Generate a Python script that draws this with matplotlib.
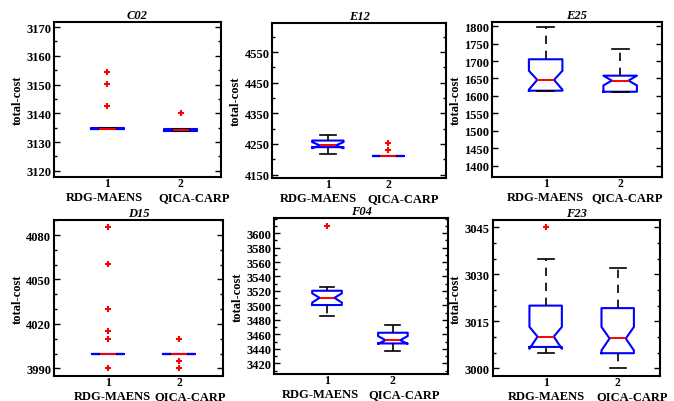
"""
Boxplots of total-cost for RDG-MAENS vs QICA-CARP on six instances.
"""

import matplotlib
matplotlib.use('Agg')
import matplotlib.pyplot as plt
from matplotlib.ticker import MultipleLocator

# ---- data ----
instances = ['C02', 'E12', 'E25', 'D15', 'F04', 'F23']
algorithms = ['RDG-MAENS', 'QICA-CARP']

# per instance: [RDG-MAENS, QICA-CARP]
medians = [[3134.7, 3134.2], [4245, 4209], [1646, 1644],
           [4000, 4000], [3510.5, 3452], [3010.1, 3009.5]]
q1s = [[3134.5, 3134.0], [4239.5, 4209], [1615, 1612],
       [4000, 4000], [3500.6, 3447.5], [3006.8, 3004.8]]
q3s = [[3135.0, 3134.4], [4261, 4209], [1705, 1658],
       [4000, 4000], [3520.3, 3462.3], [3020, 3019.2]]
whislos = [[3134.5, 3134.0], [4218, 4209], [1615, 1612],
           [4000, 4000], [3485.2, 3436.7], [3005, 3000]]
whishis = [[3135.0, 3134.4], [4280, 4209], [1797, 1733],
           [4000, 4000], [3525.4, 3472.4], [3035, 3032]]
ci_los = [[3134.7, 3134.2], [4236, 4209], [1618, 1630],
          [4000, 4000], [3504, 3447], [3006.2, 3005.7]]
ci_his = [[3134.7, 3134.2], [4256, 4209], [1672, 1658],
          [4000, 4000], [3516.7, 3457.7], [3013.2, 3013.2]]
outliers = [
    [[3154.3, 3150.2, 3142.5], [3140]],
    [[], [4253, 4231]],
    [[], []],
    [[4085.4, 4060.2, 4030.3, 4015.2, 4010, 3990], [4010, 3995.2, 3990]],
    [[3610], []],
    [[3045], []],
]

# y axis ticks
major_ticks = [list(range(3120, 3171, 10)), [4150, 4250, 4350, 4450, 4550],
               list(range(1400, 1801, 50)), [3990, 4020, 4050, 4080],
               list(range(3420, 3601, 20)), [3000, 3015, 3030, 3045]]
minor_steps = [5, 50, None, 10, 10, 5]
ylims = [(3117.8, 3171.8), (4139, 4646), (1367.5, 1812),
         (3984.8, 4090.1), (3405.2, 3620.7), (2997.5, 3047.3)]
xlims = [(0.27, 2.55), (0.08, 2.96), (0.28, 2.56),
         (0.24, 2.62), (0.20, 2.84), (0.265, 2.585)]
box_widths = [0.45, 0.52, 0.45, 0.45, 0.45, 0.45]
# where the algorithm names sit under each panel (axes fraction)
name_x = [(0.304, 0.841), (0.266, 0.751), (0.316, 0.793),
          (0.343, 0.808), (0.267, 0.748), (0.321, 0.832)]

# axes positions in figure fractions [left, bottom, width, height]
positions = [
    [0.080, 0.557, 0.248, 0.386],
    [0.404, 0.555, 0.258, 0.386],
    [0.730, 0.557, 0.252, 0.386],
    [0.080, 0.062, 0.251, 0.388],
    [0.407, 0.067, 0.258, 0.388],
    [0.731, 0.062, 0.248, 0.388],
]

plt.rcParams['font.family'] = ['Liberation Serif', 'DejaVu Serif']
plt.rcParams['font.weight'] = 'bold'

fig = plt.figure(figsize=(6.74, 4.02), dpi=100)

for i, name in enumerate(instances):
    ax = fig.add_axes(positions[i])
    stats = []
    for j in range(len(algorithms)):
        stats.append(dict(med=medians[i][j], q1=q1s[i][j], q3=q3s[i][j],
                          whislo=whislos[i][j], whishi=whishis[i][j],
                          cilo=ci_los[i][j], cihi=ci_his[i][j],
                          fliers=outliers[i][j], label=str(j + 1)))

    ax.bxp(stats, positions=[1, 2], widths=box_widths[i], shownotches=True,
           boxprops=dict(color='#0000ff', linewidth=1.5),
           medianprops=dict(color='#ff0000', linewidth=1.4),
           whiskerprops=dict(color='black', linewidth=1.2, linestyle=(0, (5, 4))),
           capprops=dict(color='black', linewidth=1.2),
           flierprops=dict(marker='+', markeredgecolor='#ff0000',
                           markersize=5, markeredgewidth=1.5, linestyle='none'))

    ax.set_xlim(*xlims[i])
    ax.set_ylim(*ylims[i])
    ax.set_yticks(major_ticks[i])
    if minor_steps[i]:
        ax.yaxis.set_minor_locator(MultipleLocator(minor_steps[i]))

    ax.tick_params(axis='y', which='both', direction='in', left=True, right=True,
                   labelsize=9, width=1.0, pad=2)
    ax.tick_params(axis='y', which='major', length=4)
    ax.tick_params(axis='y', which='minor', length=2)
    ax.tick_params(axis='x', length=0, labelsize=8.5, pad=0)
    for lbl in ax.get_xticklabels() + ax.get_yticklabels():
        lbl.set_fontweight('bold')

    # algorithm names below the tick numbers
    for j, alg in enumerate(algorithms):
        ax.text(name_x[i][j], -0.128, alg, transform=ax.transAxes,
                ha='center', va='center', fontsize=9, fontweight='bold')

    for spine in ax.spines.values():
        spine.set_linewidth(1.5)

    ax.set_ylabel('total-cost', fontsize=9, fontweight='bold', labelpad=2)
    ax.set_title(name, fontsize=9, fontweight='bold', style='italic', pad=3)

plt.savefig('out.png', dpi=100)
